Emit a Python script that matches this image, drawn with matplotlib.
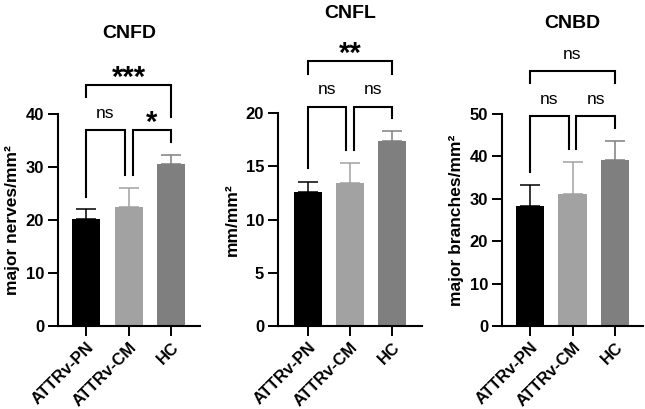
import matplotlib
matplotlib.use("Agg")
import matplotlib.pyplot as plt

plt.rcParams['font.family'] = ['Liberation Sans', 'DejaVu Sans']

# data
groups = ["ATTRv-PN", "ATTRv-CM", "HC"]
bar_colors = ["#000000", "#a2a2a2", "#7f7f7f"]

titles = ["CNFD", "CNFL", "CNBD"]
ylabels = ["major nerves/mm²", "mm/mm²", "major branches/mm²"]

cnfd_mean = [20.1, 22.5, 30.6]
cnfd_err = [1.9, 3.5, 1.6]
cnfl_mean = [12.6, 13.45, 17.4]
cnfl_err = [0.95, 1.85, 0.9]
cnbd_mean = [28.3, 31.1, 39.1]
cnbd_err = [4.9, 7.6, 4.6]

yticks = [[0, 10, 20, 30, 40], [0, 5, 10, 15, 20], [0, 10, 20, 30, 40, 50]]

# significance brackets: (left group, right group, label, top, left leg end, right leg end)
cnfd_sig = [(0, 1, "ns", 37.0, 24.3, 28.5),
            (1, 2, "*", 37.0, 28.5, 34.8),
            (0, 2, "***", 45.5, 43.3, 39.5)]
cnfl_sig = [(0, 1, "ns", 20.6, 14.8, 16.5),
            (1, 2, "ns", 20.6, 16.5, 19.5),
            (0, 2, "**", 24.9, 23.7, 23.7)]
cnbd_sig = [(0, 1, "ns", 49.5, 36.4, 41.7),
            (1, 2, "ns", 49.5, 41.7, 46.6),
            (0, 2, "ns", 60.2, 57.4, 57.4)]

means = [cnfd_mean, cnfl_mean, cnbd_mean]
errs = [cnfd_err, cnfl_err, cnbd_err]
sigs = [cnfd_sig, cnfl_sig, cnbd_sig]

# layout (pixels of a 645x409 figure)
W, H = 645, 409
boxes = [(58, 200, 114, 326), (278, 422, 113, 326), (502, 643, 114, 326)]
xlims = [(-0.66, 2.68), (-0.714, 2.714), (-0.66, 2.66)]
title_off = [58, 72, 65]

fig = plt.figure(figsize=(W / 100, H / 100), dpi=100)

for k in range(3):
    x0, x1, yt, yb = boxes[k]
    ax = fig.add_axes([x0 / W, 1 - yb / H, (x1 - x0) / W, (yb - yt) / H])
    xs = list(range(len(groups)))
    ax.bar(xs, means[k], width=0.66, color=bar_colors, zorder=2)
    for i in xs:
        ax.errorbar(i, means[k][i], yerr=[[0], [errs[k][i]]], color=bar_colors[i],
                    capsize=7, elinewidth=1.1, capthick=1.1, zorder=1)
    ax.set_xlim(*xlims[k])
    ax.set_ylim(0, yticks[k][-1])
    ax.set_yticks(yticks[k])
    ax.set_xticks(xs)
    ax.set_xticklabels(groups, rotation=45, ha='right', rotation_mode='anchor')
    for s in ['top', 'right']:
        ax.spines[s].set_visible(False)
    for s in ['left', 'bottom']:
        ax.spines[s].set_linewidth(1.5)
    ax.tick_params(width=1.4, length=7, labelsize=12, pad=3)
    for lab in ax.get_xticklabels() + ax.get_yticklabels():
        lab.set_fontweight('bold')
    ax.set_ylabel(ylabels[k], fontsize=12.5, fontweight='bold', labelpad=4)
    ax.annotate(titles[k], xy=(0.5, 1), xycoords='axes fraction',
                xytext=(0, title_off[k]), textcoords='offset points',
                ha='center', va='center', fontsize=14, fontweight='bold')

    for a, b, lab, ytop, yl, yr in sigs[k]:
        xa = a + (0.094 if a == 1 else 0)
        xb = b - (0.094 if b == 1 else 0)
        ax.plot([xa, xa, xb, xb], [yl, ytop, ytop, yr], color='black',
                lw=1.5, clip_on=False, solid_joinstyle='miter')
        if lab == "ns":
            ax.annotate(lab, xy=((xa + xb) / 2, ytop), xytext=(0, 12),
                        textcoords='offset points', ha='center', va='center',
                        fontsize=12.5, annotation_clip=False)
        else:
            ax.annotate(lab, xy=((xa + xb) / 2, ytop), xytext=(0, 5),
                        textcoords='offset points', ha='center', va='center',
                        fontsize=21, fontweight='bold', annotation_clip=False)

fig.savefig("out.png", dpi=100)
